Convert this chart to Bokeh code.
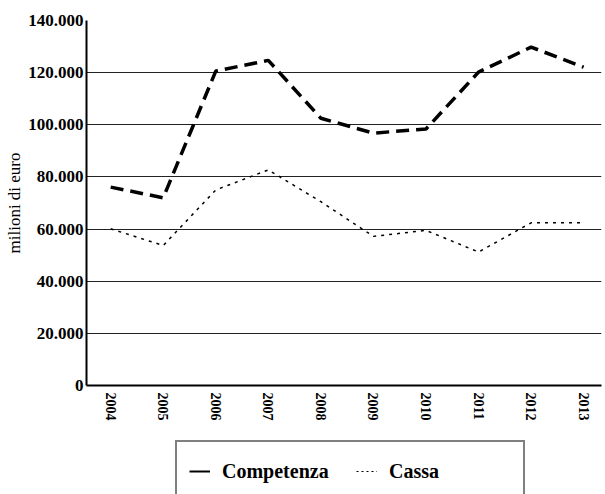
from bokeh.plotting import figure
from bokeh.models import Range1d, FixedTicker, Legend, LegendItem
from bokeh.layouts import column
from bokeh.embed import file_html
from bokeh.resources import INLINE

years = [2004, 2005, 2006, 2007, 2008, 2009, 2010, 2011, 2012, 2013]
competenza = [76100, 72000, 120600, 124700, 102500, 96800, 98400, 120200, 129800, 122100]
cassa = [60100, 53700, 75000, 82700, 70500, 57200, 59500, 51200, 62400, 62400]
y_ticks = [0, 20000, 40000, 60000, 80000, 100000, 120000, 140000]
y_tick_labels = ["0", "20.000", "40.000", "60.000", "80.000", "100.000", "120.000", "140.000"]
series_names = ["Competenza", "Cassa"]

FONT = "Liberation Serif"

p = figure(width=602, height=430, output_backend="svg", toolbar_location=None,
           x_range=Range1d(2003.54, 2013.34), y_range=Range1d(0, 140000),
           min_border_top=20, min_border_left=86, min_border_right=1,
           min_border_bottom=45)
p.outline_line_color = None
p.background_fill_color = "white"
p.border_fill_color = "white"

# grid
p.xgrid.grid_line_color = None
p.ygrid.grid_line_color = "#222222"
p.ygrid.grid_line_width = 1
p.ygrid.ticker = FixedTicker(ticks=y_ticks)

# axes
p.xaxis.ticker = FixedTicker(ticks=years)
p.xaxis.major_label_orientation = "vertical"
p.xaxis.major_label_text_font = FONT
p.xaxis.major_label_text_font_style = "bold"
p.xaxis.major_label_text_font_size = "14px"
p.xaxis.major_label_text_color = "black"
p.xaxis.major_tick_out = 0
p.xaxis.major_tick_in = 0
p.xaxis.minor_tick_out = 0
p.xaxis.minor_tick_in = 0
p.xaxis.major_label_standoff = 7
p.xaxis.axis_line_color = "black"
p.xaxis.axis_line_width = 2

p.yaxis.ticker = FixedTicker(ticks=y_ticks)
p.yaxis.major_label_overrides = {t: l for t, l in zip(y_ticks, y_tick_labels)}
p.yaxis.major_label_text_font = FONT
p.yaxis.major_label_text_font_style = "bold"
p.yaxis.major_label_text_font_size = "17px"
p.yaxis.major_label_text_color = "black"
p.yaxis.major_tick_out = 0
p.yaxis.major_tick_in = 0
p.yaxis.minor_tick_out = 0
p.yaxis.minor_tick_in = 0
p.yaxis.major_label_standoff = 3
p.yaxis.axis_line_color = "black"
p.yaxis.axis_line_width = 2
p.yaxis.axis_label = "milioni di euro"
p.yaxis.axis_label_text_font = FONT
p.yaxis.axis_label_text_font_style = "normal"
p.yaxis.axis_label_text_font_size = "17px"
p.yaxis.axis_label_text_color = "black"
p.yaxis.axis_label_standoff = 1

# data lines
p.line(years, competenza, line_color="black", line_width=3.5, line_dash="13 7")
p.line(years, cassa, line_color="black", line_width=1.5, line_dash="3 5")

# separate strip holding the legend below the chart
lg = figure(width=602, height=64, output_backend="svg", toolbar_location=None,
            x_range=Range1d(0, 1), y_range=Range1d(0, 1),
            x_axis_type=None, y_axis_type=None,
            min_border_top=0, min_border_left=0, min_border_right=0, min_border_bottom=0)
lg.outline_line_color = None
lg.xgrid.grid_line_color = None
lg.ygrid.grid_line_color = None
lg.background_fill_color = "white"
lg.border_fill_color = "white"

# legend proxies (single point: draw nothing)
r1 = lg.line(years[:1], competenza[:1], line_color="black", line_width=2)
r2 = lg.line(years[:1], cassa[:1], line_color="black", line_width=1.2, line_dash="2 3")

legend = Legend(items=[LegendItem(label=series_names[0], renderers=[r1]),
                       LegendItem(label=series_names[1], renderers=[r2])],
                orientation="horizontal", location=(89, -8))
legend.label_text_font = FONT
legend.label_text_font_style = "bold"
legend.label_text_font_size = "20px"
legend.label_text_color = "black"
legend.label_width = 122
legend.label_standoff = 12
legend.glyph_width = 21
legend.glyph_height = 34
legend.spacing = 12
legend.padding = 12
legend.margin = 0
legend.border_line_color = "black"
legend.border_line_width = 2
legend.background_fill_color = "white"
lg.add_layout(legend, "center")

layout = column(p, lg, spacing=0)

open("out.html", "w").write(file_html(layout, INLINE))
